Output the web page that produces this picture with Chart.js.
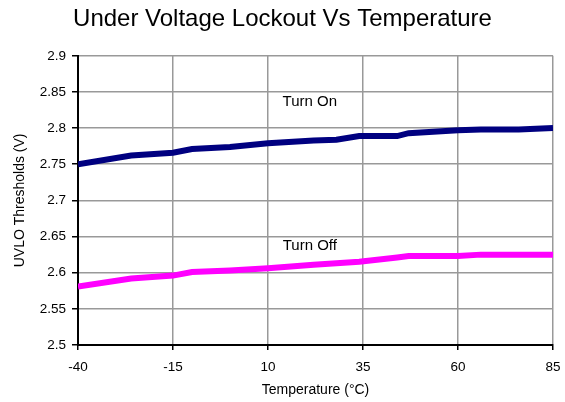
<!DOCTYPE html>
<html>
<head>
<meta charset="utf-8">
<script src="https://cdn.jsdelivr.net/npm/chart.js@4/dist/chart.umd.min.js"></script>
<style>
  body { margin: 0; background: #fff; }
  #wrap { width: 565px; height: 402px; }
</style>
</head>
<body>
<div id="wrap"><canvas id="uvloChart" width="565" height="402"></canvas></div>
<script>
// temperatures (°C) and thresholds (V)
let temps   = [-40, -26, -15, -10, 0, 10, 22, 28, 34, 44, 47, 60, 66, 76, 85];
let turnOn  = [2.750, 2.762, 2.766, 2.771, 2.774, 2.779, 2.783, 2.784, 2.789, 2.789, 2.793, 2.797, 2.798, 2.798, 2.800];
let turnOff = [2.581, 2.592, 2.596, 2.601, 2.603, 2.606, 2.611, 2.613, 2.615, 2.621, 2.623, 2.623, 2.625, 2.625, 2.625];

let xTicks = [-40, -15, 10, 35, 60, 85];
let yTicks = [2.5, 2.55, 2.6, 2.65, 2.7, 2.75, 2.8, 2.85, 2.9];

// in-plot labels, placed in data units
let noteText = ["Turn On", "Turn Off"];
let noteX = [21, 21];
let noteY = [2.836, 2.637];

let font = "'Liberation Sans', Arial, sans-serif";

function points(ys) {
    return temps.map((t, i) => ({ x: t, y: ys[i] }));
}

// draws the "Turn On" / "Turn Off" text through the scales
const notes = {
    id: "notes",
    afterDatasetsDraw(chart) {
        let ctx = chart.ctx;
        let xs = chart.scales.x, ys = chart.scales.y;
        ctx.save();
        ctx.font = "15px " + font;
        ctx.fillStyle = "#000";
        ctx.textAlign = "center";
        ctx.textBaseline = "middle";
        noteText.forEach((txt, i) => {
            ctx.fillText(txt, xs.getPixelForValue(noteX[i]), ys.getPixelForValue(noteY[i]));
        });
        ctx.restore();
    }
};

new Chart(document.getElementById("uvloChart"), {
    type: "scatter",
    data: {
        datasets: [{
            label: "Turn On",
            data: points(turnOn),
            showLine: true,
            borderColor: "#000080",
            borderWidth: 6,
            pointRadius: 0,
            tension: 0
        }, {
            label: "Turn Off",
            data: points(turnOff),
            showLine: true,
            borderColor: "#FF00FF",
            borderWidth: 6,
            pointRadius: 0,
            tension: 0
        }]
    },
    options: {
        responsive: false,
        animation: false,
        layout: { padding: { left: 12, right: 12, top: 0, bottom: 0 } },
        plugins: {
            legend: { display: false },
            tooltip: { enabled: false },
            title: {
                display: true,
                text: "Under Voltage Lockout Vs Temperature",
                color: "#000",
                font: { family: font, size: 24, weight: "normal" },
                padding: { top: 5, bottom: 22 }
            }
        },
        scales: {
            x: {
                type: "linear",
                min: -40,
                max: 85,
                afterBuildTicks: s => { s.ticks = xTicks.map(v => ({ value: v })); },
                afterFit: s => { s.height = 57; s.paddingRight = 0; s.paddingLeft = 0; },
                grid: { color: "#999", lineWidth: 1.5, tickColor: "#000", tickLength: 5 },
                border: { color: "#000", width: 2 },
                ticks: { color: "#000", font: { family: font, size: 13.5 }, padding: 9, maxRotation: 0 },
                title: {
                    display: true,
                    text: "Temperature (°C)",
                    color: "#000",
                    font: { family: font, size: 14 },
                    padding: { top: 0, bottom: 3 }
                }
            },
            y: {
                min: 2.5,
                max: 2.9,
                afterBuildTicks: s => { s.ticks = yTicks.map(v => ({ value: v })); },
                afterFit: s => { s.width = 66; },
                grid: { color: "#999", lineWidth: 1.5, tickColor: "#000", tickLength: 6 },
                border: { color: "#000", width: 2 },
                ticks: {
                    color: "#000",
                    font: { family: font, size: 13.5 },
                    padding: 6,
                    callback: v => String(+v.toFixed(2))
                },
                title: {
                    display: true,
                    text: "UVLO Thresholds (V)",
                    color: "#000",
                    font: { family: font, size: 14 },
                    padding: { top: 0, bottom: 0 }
                }
            }
        }
    },
    plugins: [notes]
});
</script>
</body>
</html>
